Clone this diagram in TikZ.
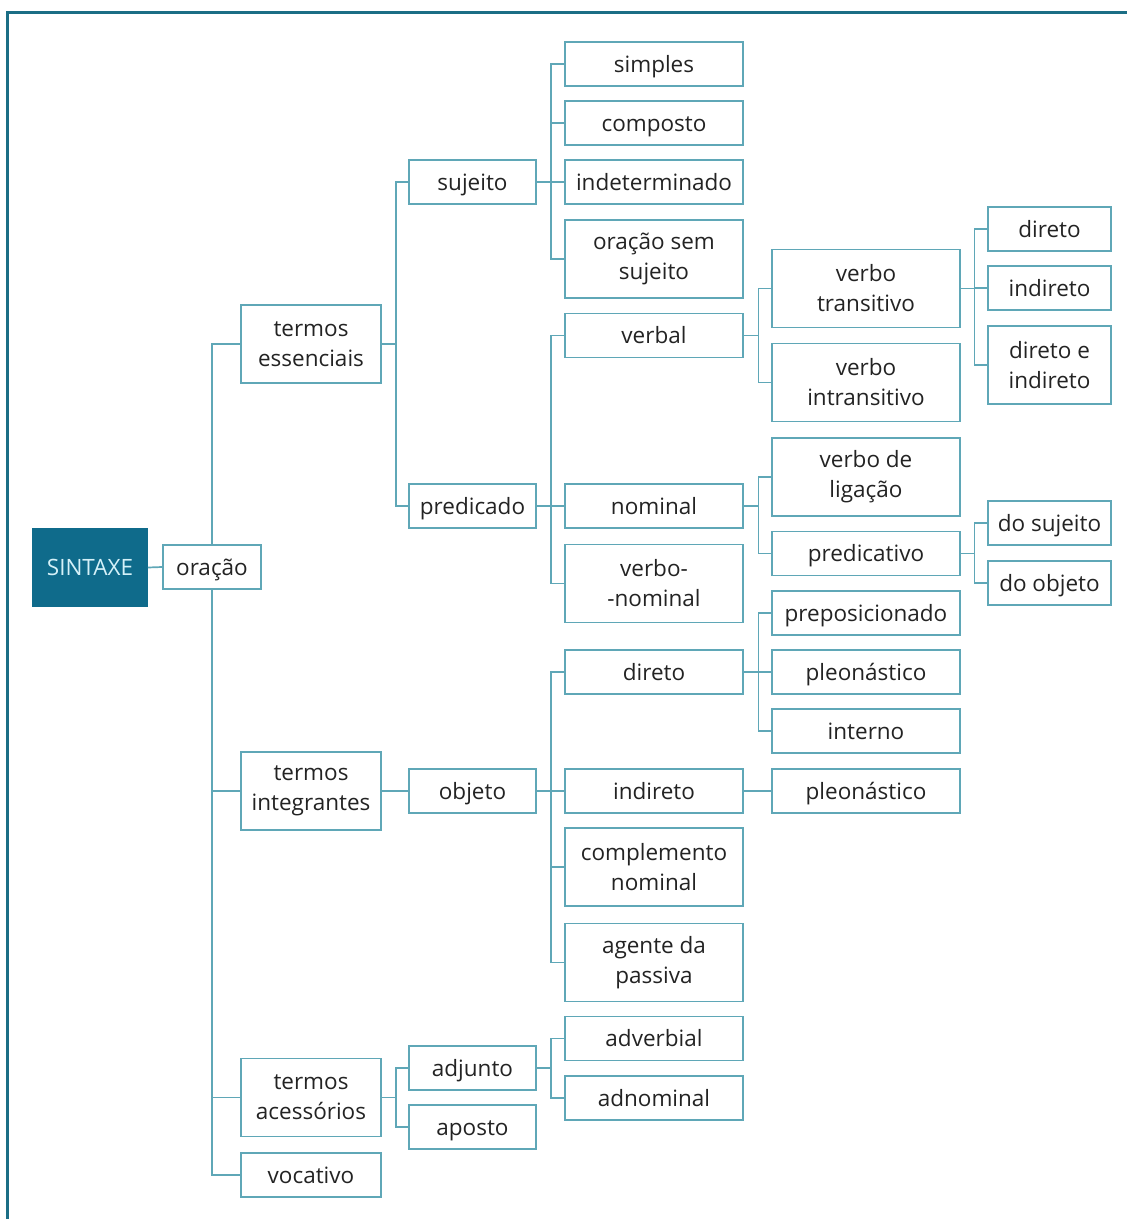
\documentclass[tikz,border=0pt]{standalone}
\usepackage{fontspec}
\setmainfont{Open Sans}
\definecolor{boxc}{HTML}{5FA7B7}
\definecolor{framec}{HTML}{1B6E85}
\definecolor{darkfill}{HTML}{0F6B8B}
\definecolor{lighttext}{HTML}{D5F1F8}
\definecolor{txt}{HTML}{232323}
\begin{document}
\begin{tikzpicture}[x=1pt,y=-1pt,
  box/.style={draw=boxc, line width=1.9pt, fill=white, inner sep=0pt, align=center,
    text=txt, font=\fontsize{22.5}{30}\selectfont},
  one/.style={minimum height=44pt, text height=19pt, text depth=2.5pt},
  two/.style={minimum height=78pt},
  cA/.style={box, minimum width=140pt},
  cB/.style={box, minimum width=127pt},
  cC/.style={box, minimum width=178pt},
  cD/.style={box, minimum width=188pt},
  cE/.style={box, minimum width=123pt},
  link/.style={draw=boxc, line width=1.7pt}]
\useasboundingbox (0,0) rectangle (1127,1219);
\draw[framec, line width=3pt] (7,1219) -- (7,12) -- (1127,12);

% root
\node[box, draw=darkfill, fill=darkfill, text=lighttext, minimum width=114pt, minimum height=77pt, text height=19pt, text depth=2.5pt] (sintaxe) at (90,567.5) {SINTAXE};
\node[box, one, minimum width=98pt] (oracao) at (212,567) {oração};

% column A
\node[cA, two] (tess) at (311,344) {termos\\essenciais};
\node[cA, two] (tint) at (311,791) {termos\\integrantes};
\node[cA, two] (tace) at (311,1097.5) {termos\\acessórios};
\node[cA, one] (voc) at (311,1175) {vocativo};

% column B
\node[cB, one] (suj) at (472.5,182) {sujeito};
\node[cB, one] (pred) at (472.5,506) {predicado};
\node[cB, one] (obj) at (472.5,791) {objeto};
\node[cB, one] (adj) at (472.5,1068) {adjunto};
\node[cB, one] (apo) at (472.5,1127) {aposto};

% column C
\node[cC, one] (simp) at (654,64) {simples};
\node[cC, one] (comp) at (654,123) {composto};
\node[cC, one] (indet) at (654,182) {indeterminado};
\node[cC, two] (oss) at (654,259) {oração sem\\sujeito};
\node[cC, one] (verbal) at (654,335.5) {verbal};
\node[cC, one] (nomi) at (654,506) {nominal};
\node[cC, two] (vnom) at (654,583.5) {verbo-\\-nominal};
\node[cC, one] (odir) at (654,672) {direto};
\node[cC, one] (oind) at (654,791) {indireto};
\node[cC, two] (cnom) at (654,867) {complemento\\nominal};
\node[cC, two] (agp) at (654,962.5) {agente da\\passiva};
\node[cC, one] (adv) at (654,1038.5) {adverbial};
\node[cC, one] (adn) at (654,1098) {adnominal};

% column D
\node[cD, two] (vtr) at (866,288.5) {verbo\\transitivo};
\node[cD, two] (vin) at (866,382.5) {verbo\\intransitivo};
\node[cD, two] (vlig) at (866,477) {verbo de\\ligação};
\node[cD, one] (predv) at (866,553.5) {predicativo};
\node[cD, one] (prep) at (866,613) {preposicionado};
\node[cD, one] (pleo) at (866,672) {pleonástico};
\node[cD, one] (inte) at (866,731) {interno};
\node[cD, one] (pleoi) at (866,791) {pleonástico};

% column E
\node[cE, one] (edir) at (1049.5,229) {direto};
\node[cE, one] (eind) at (1049.5,288) {indireto};
\node[cE, two] (edi) at (1049.5,365) {direto e\\indireto};
\node[cE, one] (dsuj) at (1049.5,523) {do sujeito};
\node[cE, one] (dobj) at (1049.5,583) {do objeto};

% connectors
\draw[link] (sintaxe.east) -- (oracao.west);
\draw[link] (oracao.north) |- (tess.west);
\draw[link] (oracao.south) |- (tint.west);
\draw[link] (oracao.south) |- (tace.west);
\draw[link] (oracao.south) |- (voc.west);

\draw[link] (tess.east) -- ++(14,0) |- (suj.west);
\draw[link] (tess.east) -- ++(14,0) |- (pred.west);
\draw[link] (tint.east) -- (obj.west);
\draw[link] (tace.east) -- ++(14,0) |- (adj.west);
\draw[link] (tace.east) -- ++(14,0) |- (apo.west);

\foreach \c in {simp,comp,indet,oss}
  \draw[link] (suj.east) -- ++(14,0) |- (\c.west);
\foreach \c in {verbal,nomi,vnom}
  \draw[link] (pred.east) -- ++(14,0) |- (\c.west);
\foreach \c in {odir,oind,cnom,agp}
  \draw[link] (obj.east) -- ++(14,0) |- (\c.west);
\foreach \c in {adv,adn}
  \draw[link] (adj.east) -- ++(14,0) |- (\c.west);

\foreach \c in {vtr,vin}
  \draw[link] (verbal.east) -- ++(14.5,0) |- (\c.west);
\foreach \c in {vlig,predv}
  \draw[link] (nomi.east) -- ++(14.5,0) |- (\c.west);
\foreach \c in {prep,pleo,inte}
  \draw[link] (odir.east) -- ++(14.5,0) |- (\c.west);
\draw[link] (oind.east) -- (pleoi.west);

\foreach \c in {edir,eind,edi}
  \draw[link] (vtr.east) -- ++(13.5,0) |- (\c.west);
\foreach \c in {dsuj,dobj}
  \draw[link] (predv.east) -- ++(13.5,0) |- (\c.west);
\end{tikzpicture}
\end{document}
